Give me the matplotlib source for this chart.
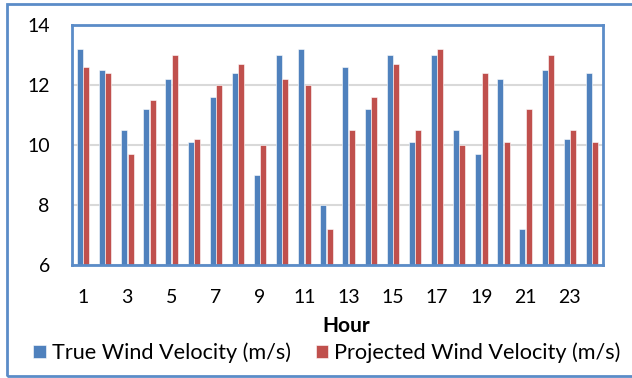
import matplotlib
matplotlib.use("Agg")
import matplotlib.pyplot as plt
from matplotlib.patches import Rectangle
import numpy as np

hours = list(range(1, 25))
true_velocity = [13.2, 12.5, 10.5, 11.2, 12.2, 10.1, 11.6, 12.4, 9.0, 13.0, 13.2, 8.0,
                 12.6, 11.2, 13.0, 10.1, 13.0, 10.5, 9.7, 12.2, 7.2, 12.5, 10.2, 12.4]
projected_velocity = [12.6, 12.4, 9.7, 11.5, 13.0, 10.2, 12.0, 12.7, 10.0, 12.2, 12.0, 7.2,
                      10.5, 11.6, 12.7, 10.5, 13.2, 10.0, 12.4, 10.1, 11.2, 13.0, 10.5, 10.1]
series_names = ["True Wind Velocity (m/s)", "Projected Wind Velocity (m/s)"]
y_ticks = [6, 8, 10, 12, 14]

plt.rcParams['font.family'] = ['Lato', 'DejaVu Sans']

BLUE = "#4F81BD"
RED = "#C0504D"
FRAME = "#5B8CC8"

fig = plt.figure(figsize=(6.32, 3.78), dpi=100)
ax = fig.add_axes([72/632, (378-265)/378, (603-72)/632, (265-25)/378])

x = np.array(hours)
w = 0.27
b1 = ax.bar(x - 0.14, true_velocity, width=w, color=BLUE, edgecolor="white", linewidth=0.4,
            label=series_names[0], zorder=3)
b2 = ax.bar(x + 0.145, projected_velocity, width=w, color=RED, edgecolor="white", linewidth=0.4,
            label=series_names[1], zorder=3)

ax.set_xlim(0.5, 24.5)
ax.set_ylim(6, 14)
ax.set_yticks(y_ticks)
ax.set_yticklabels([str(t) for t in y_ticks], fontsize=14)
ax.set_xticks(hours)
ax.set_xticklabels([str(h) if h % 2 == 1 else "" for h in hours], fontsize=14)
ax.tick_params(axis='both', length=0)
ax.tick_params(axis='y', pad=16)
ax.tick_params(axis='x', pad=17)
ax.yaxis.grid(True, color="#D9D9D9", linewidth=1.5, zorder=0)
ax.set_axisbelow(True)
for s in ax.spines.values():
    s.set_color(FRAME)
    s.set_linewidth(2)
    s.set_zorder(4)

fig.text(346/632, (378-326)/378, "Hour", fontsize=15, fontweight="bold", ha="center", va="center")

fig.legend(handles=[b1, b2], labels=series_names, loc="center",
           bbox_to_anchor=(327/632, (378-353)/378), ncol=2, frameon=False, fontsize=15.6,
           handlelength=0.58, handleheight=0.58, handletextpad=0.28, columnspacing=1.15,
           borderpad=0, borderaxespad=0)

fig.patches.append(Rectangle((7/632, 2/378), 1.0, (376-4)/378, transform=fig.transFigure,
                             fill=False, edgecolor=FRAME, linewidth=2))

fig.savefig("out.png", dpi=100)
